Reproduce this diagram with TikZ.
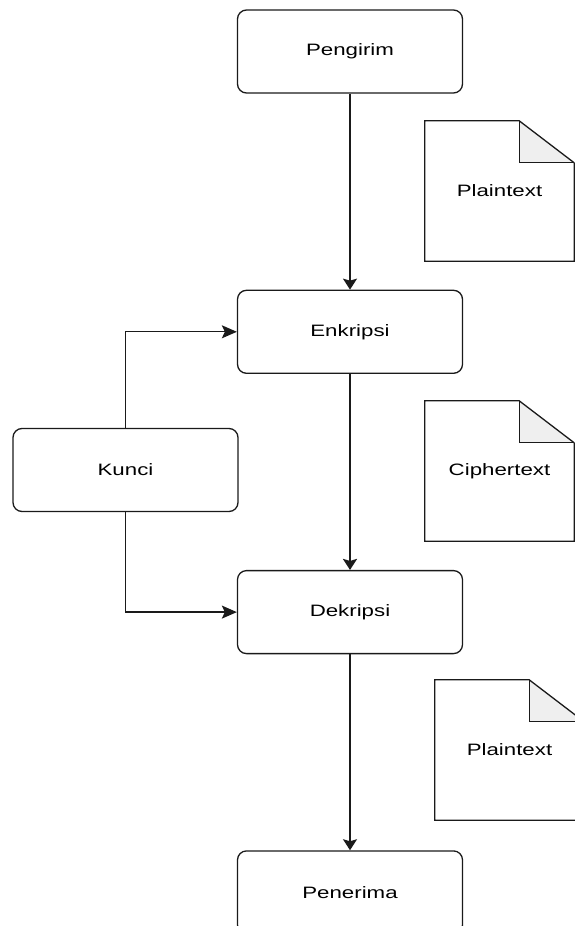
\documentclass[tikz,border=0pt]{standalone}
\usepackage{fontspec}
\setmainfont{Liberation Sans}
\usepackage{graphicx}
\usetikzlibrary{arrows.meta,positioning}
\definecolor{LineDark}{HTML}{1A1A1A}
\definecolor{FoldGray}{HTML}{EFEFEF}
\newcommand{\wtext}[1]{\scalebox{1.35}[1]{#1}}
\newcommand{\paperoutline}[1]{%
  \fill[FoldGray] ([xshift=-55pt]#1.north east) -- ([xshift=-55pt,yshift=-42pt]#1.north east) -- ([yshift=-42pt]#1.north east) -- cycle;
  \draw[paperline] (#1.north east) ++(0,-42pt) -- (#1.south east) -- (#1.south west) -- (#1.north west) -- ([xshift=-55pt]#1.north east) -- ([yshift=-42pt]#1.north east);
  \draw[paperline] ([xshift=-55pt]#1.north east) -- ([xshift=-55pt,yshift=-42pt]#1.north east) -- ([yshift=-42pt]#1.north east);}
\tikzset{
  stepbox/.style={draw=LineDark,line width=1.3pt,rounded corners=9pt,minimum width=225pt,minimum height=83pt,align=center,font=\fontsize{16.5}{19}\selectfont},
  paper/.style={minimum width=149pt,minimum height=140pt,inner sep=0pt,align=center,font=\fontsize{16.5}{19}\selectfont},
  paperline/.style={draw=LineDark,line width=1.3pt},
  flow/.style={-{Stealth[length=11pt,width=14pt,inset=2pt]},line width=1.3pt,draw=LineDark},
  flowbold/.style={-{Stealth[length=11pt,width=14pt,inset=2pt]},line width=2.3pt,draw=LineDark},
  flowside/.style={-{Stealth[length=15pt,width=13pt,inset=3pt]},line width=1.3pt,draw=LineDark}
}
\begin{document}
\begin{tikzpicture}[x=1pt,y=-1pt,node distance=196pt]
\useasboundingbox (0,0) rectangle (574,926);
\node[stepbox] (pengirim) at (350,51.5) {\wtext{Pengirim}};
\node[stepbox,below=of pengirim] (enkripsi) {\wtext{Enkripsi}};
\node[stepbox,below=of enkripsi] (dekripsi) {\wtext{Dekripsi}};
\node[stepbox,below=of dekripsi] (penerima) {\wtext{Penerima}};
\node[stepbox] (kunci) at (125.5,470) {\wtext{Kunci}};
\node[paper] (plain1) at (499.5,191) {\wtext{Plaintext}};
\node[paper] (cipher) at (499.5,471) {\wtext{Ciphertext}};
\node[paper] (plain2) at (509.5,750) {\wtext{Plaintext}};
\paperoutline{plain1}
\paperoutline{cipher}
\paperoutline{plain2}
\draw[flow] (pengirim) -- (enkripsi);
\draw[flowbold] (enkripsi) -- (dekripsi);
\draw[flow] (dekripsi) -- (penerima);
\draw[flowside] (kunci) |- (enkripsi);
\draw[flowside] (kunci) |- (dekripsi);
\end{tikzpicture}
\end{document}
